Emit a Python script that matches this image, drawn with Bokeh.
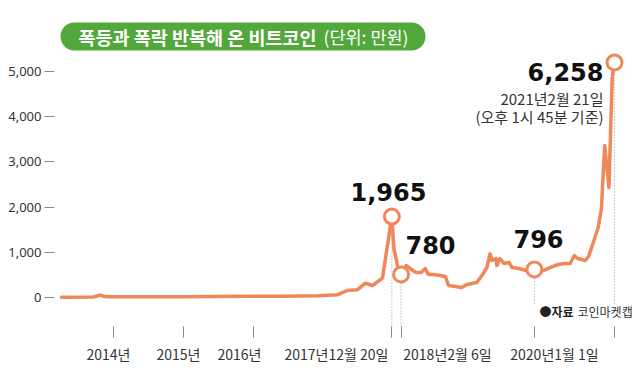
import datetime as dt
from bokeh.plotting import figure
from bokeh.models import (Range1d, FixedTicker, NumeralTickFormatter, Label,
                          BoxAnnotation, ColumnDataSource, DatetimeAxis)
from bokeh.embed import file_html
from bokeh.resources import INLINE

# ---------------- data (만원) ----------------
dates = ["2013-04-05", "2013-09-18", "2013-10-25", "2013-11-15", "2013-12-06",
         "2014-06-01", "2015-01-01", "2015-06-01", "2016-01-01", "2016-06-01",
         "2016-12-01", "2017-03-11", "2017-05-02", "2017-06-23", "2017-08-04",
         "2017-09-10", "2017-11-01", "2017-12-20", "2017-12-27", "2018-01-01",
         "2018-01-08", "2018-01-18", "2018-01-23", "2018-02-06", "2018-03-04",
         "2018-03-31", "2018-04-26", "2018-05-22", "2018-06-12", "2018-06-28",
         "2018-07-24", "2018-08-30", "2018-09-25", "2018-10-11", "2018-11-17",
         "2018-12-18", "2019-01-14", "2019-02-09", "2019-03-07", "2019-04-03",
         "2019-04-29", "2019-05-15", "2019-05-25", "2019-06-15", "2019-06-20",
         "2019-07-06", "2019-07-27", "2019-08-22", "2019-09-07", "2019-10-13",
         "2019-11-19", "2019-12-15", "2020-01-01", "2020-02-15", "2020-03-25",
         "2020-05-04", "2020-06-07", "2020-07-05", "2020-07-27", "2020-08-13",
         "2020-09-22", "2020-10-09", "2020-11-06", "2020-11-28", "2020-12-15",
         "2021-01-01", "2021-01-23", "2021-02-09", "2021-02-21"]
prices = [5, 10, 55, 20, 15,
          15, 15, 20, 25, 30,
          40, 60, 155, 170, 316,
          265, 427, 1790, 1305, 1040,
          930, 708, 597, 509, 708,
          620, 553, 553, 640, 510,
          510, 487, 465, 265, 243,
          221, 288, 310, 332, 487,
          664, 970, 820, 863, 708,
          863, 752, 774, 664, 642,
          597, 553, 620, 597, 664,
          730, 752, 752, 929, 863,
          819, 907, 1261, 1549, 1969,
          3363, 2434, 4867, 5200]

peak_dates = ["2017-12-20", "2018-02-06", "2020-01-01", "2021-02-21"]
peak_values = [1790, 509, 620, 5200]
peak_labels = ["1,965", "780", "796", "6,258"]

y_ticks = [0, 1000, 2000, 3000, 4000, 5000]
x_tick_dates = ["2014-01-01", "2015-01-01", "2016-01-01", "2017-12-20",
                "2018-02-06", "2020-01-01", "2021-02-21"]
x_tick_labels = ["2014년", "2015년", "2016년", "2017년12월 20일",
                 "2018년2월 6일", "2020년1월 1일"]

title_bold = "폭등과 폭락 반복해 온 비트코인"
title_unit = "(단위: 만원)"
note_date = "2021년2월 21일"
note_time = "(오후 1시 45분 기준)"
source_head = "●자료"
source_name = "코인마켓캡"

# ---------------- helpers ----------------
def ms(s):
    d = dt.datetime.strptime(s, "%Y-%m-%d").replace(tzinfo=dt.timezone.utc)
    return d.timestamp() * 1000.0

# reference-pixel -> data, used for layout placement only
T0 = ms("2014-01-01")
K = (ms("2021-02-21") - T0) / (614 - 113)
def X(px):
    return T0 + (px - 113) * K
def Y(py):
    return (297 - py) * 1000.0 / 45.2

ORANGE = "#F0875A"
GREEN = "#52A83A"
KR = "Noto Sans CJK KR"

p = figure(width=632, height=366, x_axis_type="datetime",
           output_backend="svg", toolbar_location=None,
           x_range=Range1d(X(54), X(632)), y_range=Range1d(Y(326), Y(0)),
           min_border_left=54, min_border_right=0, min_border_top=0,
           min_border_bottom=40)
p.outline_line_color = None
p.xgrid.visible = False
p.ygrid.visible = False
p.background_fill_color = "white"
p.border_fill_color = "white"

# y axis
p.yaxis.ticker = FixedTicker(ticks=y_ticks)
p.yaxis.formatter = NumeralTickFormatter(format="0,0")
p.yaxis.axis_line_color = None
p.yaxis.major_tick_out = 10
p.yaxis.major_tick_in = 0
p.yaxis.minor_tick_out = 0
p.yaxis.minor_tick_in = 0
p.yaxis.major_tick_line_color = "#8a8a8a"
p.yaxis.major_label_standoff = 3
p.yaxis.major_label_text_font = "Noto Sans"
p.yaxis.major_label_text_font_size = "13px"
p.yaxis.major_label_text_color = "#333333"

# x axis A: tick marks at the dates
tick_ms = [ms(d) for d in x_tick_dates]
xa = p.xaxis[0]
xa.ticker = FixedTicker(ticks=tick_ms)
xa.major_label_overrides = {t: "" for t in tick_ms}
xa.major_label_standoff = 0
xa.axis_line_color = None
xa.major_tick_out = 11
xa.major_tick_in = 0
xa.minor_tick_out = 0
xa.minor_tick_in = 0
xa.major_tick_line_color = "#8a8a8a"

# x axis B: the tick labels, placed as in the original layout
label_centers = [X(px) for px in (108, 178, 239, 336, 447, 554)]
xb = DatetimeAxis(ticker=FixedTicker(ticks=label_centers),
                  major_label_overrides=dict(zip(label_centers, x_tick_labels)),
                  axis_line_color=None, major_tick_line_color=None,
                  major_tick_out=0, major_tick_in=0,
                  minor_tick_out=0, minor_tick_in=0,
                  major_label_standoff=6,
                  major_label_text_font=KR,
                  major_label_text_font_size="14px",
                  major_label_text_color="#333333")
p.add_layout(xb, "below")

# dotted guide lines
peak_ms = [ms(d) for d in peak_dates]
guide_bottom = [Y(326), Y(326), Y(304), Y(304)]
p.segment(x0=peak_ms, x1=peak_ms, y0=peak_values, y1=guide_bottom,
          line_color="#999999", line_width=1, line_dash="1 2")

# price line
src = ColumnDataSource(dict(x=[ms(d) for d in dates], y=prices))
p.line("x", "y", source=src, line_color=ORANGE, line_width=3.5,
       line_join="round", line_cap="round")

# highlighted points
p.scatter(x=peak_ms, y=peak_values, size=15, marker="circle",
          fill_color="white", line_color=ORANGE, line_width=3)

# value labels
big = dict(text_font="DejaVu Sans", text_font_style="bold",
           text_font_size="24px", text_color="#111111",
           text_baseline="middle")
label_layout = [(388, 191, "center"), (430, 244, "center"),
                (538, 238, "center"), (603, 71, "right")]
for txt, (px, py, al) in zip(peak_labels, label_layout):
    p.add_layout(Label(x=X(px), y=Y(py), text=txt, text_align=al, **big))

small = dict(text_font=KR, text_font_size="15px", text_color="#333333",
             text_baseline="middle", text_align="right")
p.add_layout(Label(x=X(603), y=Y(98), text=note_date, **small))
p.add_layout(Label(x=X(603), y=Y(116), text=note_time, **small))

# source
p.add_layout(Label(x=X(539), y=Y(311), text=source_head, text_font=KR,
                   text_font_style="bold", text_font_size="12px",
                   text_color="#222222", text_baseline="middle"))
p.add_layout(Label(x=X(577), y=Y(311), text=source_name, text_font=KR,
                   text_font_size="12px", text_color="#333333",
                   text_baseline="middle"))

# title pill
p.add_layout(BoxAnnotation(left=X(60), right=X(425), top=Y(22), bottom=Y(50),
                           fill_color=GREEN, fill_alpha=1.0, line_color=None,
                           border_radius=14))
p.add_layout(Label(x=X(78), y=Y(36), text=title_bold, text_font=KR,
                   text_font_style="bold", text_font_size="18.5px",
                   text_color="white", text_baseline="middle"))
p.add_layout(Label(x=X(323), y=Y(36), text=title_unit, text_font=KR,
                   text_font_size="17.5px", text_color="white",
                   text_baseline="middle"))

open("out.html", "w").write(file_html(p, INLINE))
